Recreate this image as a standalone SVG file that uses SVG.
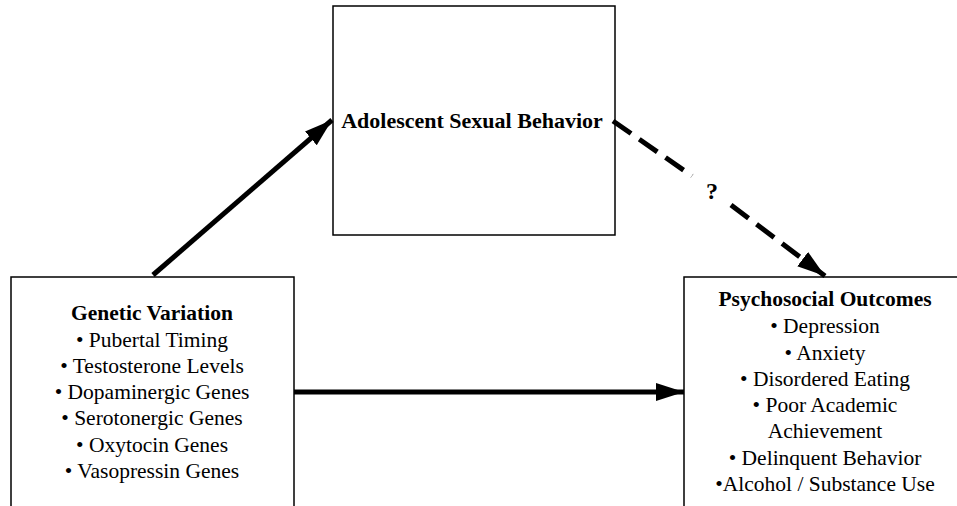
<svg xmlns="http://www.w3.org/2000/svg" width="957" height="506" viewBox="0 0 957 506">
<style>
.box{fill:#fff;stroke:#000;stroke-width:1.5}
text{font-family:"Liberation Serif","Times New Roman",serif;fill:#000;text-anchor:middle}
.t{font-size:21.5px}
.b{font-weight:bold}
.c{stroke:#000;stroke-width:5;fill:none}
</style>
<defs>
<marker id="ah" markerUnits="userSpaceOnUse" markerWidth="30" markerHeight="20" refX="28" refY="10" orient="auto">
<path d="M0,1 L28,10 L0,19 Z" fill="#000"/>
</marker>
</defs>
<rect width="957" height="506" fill="#fff"/>
<g id="node-asb">
<rect class="box" x="333" y="6" width="282" height="229"/>
<text class="b" x="472" y="128" font-size="22">Adolescent Sexual Behavior</text>
</g>
<g id="node-genetic">
<rect class="box" x="11" y="277" width="283" height="240"/>
<text class="t b" x="152" y="320">Genetic Variation</text>
<text class="t" x="152" y="347">• Pubertal Timing</text>
<text class="t" x="152" y="373">• Testosterone Levels</text>
<text class="t" x="152" y="399">• Dopaminergic  Genes</text>
<text class="t" x="152" y="425">• Serotonergic Genes</text>
<text class="t" x="152" y="452">• Oxytocin Genes</text>
<text class="t" x="152" y="478">• Vasopressin Genes</text>
</g>
<g id="node-outcomes">
<rect class="box" x="684" y="277" width="290" height="240"/>
<text class="t b" x="825" y="306">Psychosocial Outcomes</text>
<text class="t" x="825" y="333">• Depression</text>
<text class="t" x="825" y="360">• Anxiety</text>
<text class="t" x="825" y="386">• Disordered Eating</text>
<text class="t" x="825" y="412">• Poor Academic</text>
<text class="t" x="825" y="438">Achievement</text>
<text class="t" x="825" y="465">• Delinquent  Behavior</text>
<text class="t" x="825" y="491">•Alcohol / Substance Use</text>
</g>
<g id="connectors">
<line class="c" x1="153" y1="275" x2="332" y2="120" marker-end="url(#ah)"/>
<line class="c" x1="294" y1="392" x2="684" y2="392" marker-end="url(#ah)"/>
<line class="c" x1="613" y1="121" x2="692" y2="176" stroke-dasharray="22,10"/>
<line class="c" x1="731" y1="205" x2="825" y2="276" stroke-dasharray="22,10" marker-end="url(#ah)"/>
<text class="b" x="712" y="199" font-size="24">?</text>
</g>
</svg>
